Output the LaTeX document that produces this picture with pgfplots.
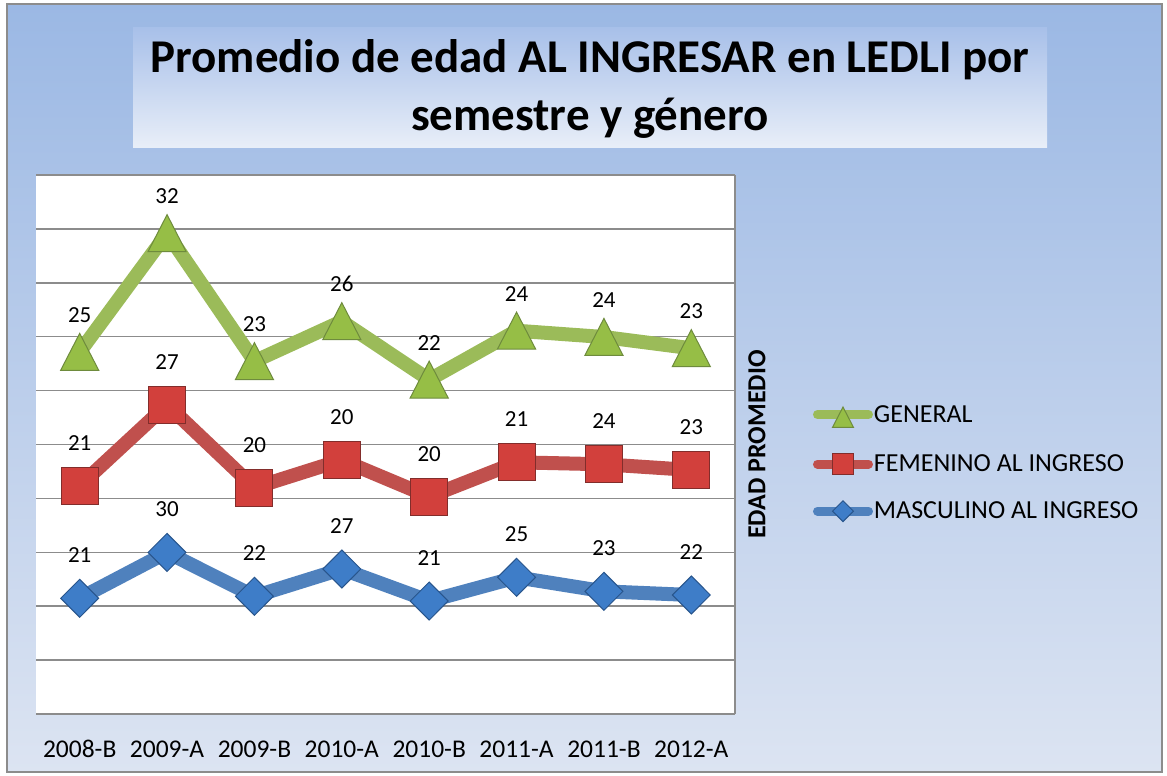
\documentclass[border=0pt]{standalone}
\usepackage{fontspec}
\setmainfont{Carlito}
\usepackage{pgfplots}
\pgfplotsset{compat=1.18}
\definecolor{bgtop}{RGB}{155,184,228}
\definecolor{bgbot}{RGB}{220,228,242}
\definecolor{ttop}{RGB}{168,192,233}
\definecolor{tbot}{RGB}{232,238,248}
\definecolor{gline}{RGB}{155,187,89}
\definecolor{gmark}{RGB}{150,190,70}
\definecolor{gedge}{RGB}{110,139,61}
\definecolor{rline}{RGB}{192,80,77}
\definecolor{rmark}{RGB}{210,64,60}
\definecolor{redge}{RGB}{130,45,43}
\definecolor{bline}{RGB}{79,129,189}
\definecolor{bmark}{RGB}{62,125,200}
\definecolor{bedge}{RGB}{40,85,140}
\definecolor{gridc}{RGB}{140,140,140}
\begin{document}
\begin{tikzpicture}[x=1pt,y=1pt]
\fill[white] (0pt,0pt) rectangle (1167pt,-776pt);
\shadedraw[top color=bgtop, bottom color=bgbot, draw=gridc, line width=1.5pt] (7pt,-4pt) rectangle (1162pt,-772pt);
\shade[top color=ttop, bottom color=tbot] (133pt,-28pt) rectangle (1047pt,-147pt);
\node[anchor=base, font=\fontsize{47}{57}\selectfont\bfseries, inner sep=0pt] at (590pt,-73pt) {Promedio de edad AL INGRESAR en LEDLI por};
\node[anchor=base, font=\fontsize{47}{57}\selectfont\bfseries, inner sep=0pt] at (590pt,-130pt) {semestre y género};
\begin{axis}[at={(36pt,-714pt)}, anchor=south west, scale only axis,
  width=699pt, height=539pt,
  xmin=-0.5, xmax=7.5, ymin=0, ymax=100,
  clip=false,
  stack plots=y,
  /pgf/number format/assume math mode=true,
  axis background/.style={fill=white},
  axis line style={draw=none},
  ytick={0,10,...,100}, yticklabels={},
  ymajorgrids, grid style={gridc, line width=1.5pt},
  major tick length=0pt,
  xtick={0,...,7},
  xticklabels={2008-B,2009-A,2009-B,2010-A,2010-B,2011-A,2011-B,2012-A},
  xticklabel style={font=\fontsize{25.5}{30}\selectfont, anchor=base, yshift=-43pt},
  ylabel={EDAD PROMEDIO},
  every axis y label/.style={at={(axis description cs:1.0315,0.5)}, rotate=90, anchor=center, font=\fontsize{26}{31}\selectfont\bfseries},
  point meta=explicit,
  nodes near coords,
  every node near coord/.append style={font=\fontsize{23}{27}\selectfont, black, anchor=center, yshift=43pt},
  legend style={at={(axis description cs:1.107,0.4657)}, anchor=west, draw=none, fill=none,
    font=\fontsize{26}{31}\selectfont, row sep=26.5pt, nodes={inner sep=1pt}},
  legend cell align=left,
  reverse legend,
  legend image code/.code={
    \draw[#1, line width=9pt, line cap=round, mark=none] (0pt,0pt) -- (51pt,0pt);
    \draw[#1, every mark/.append style={scale=0.55}] plot coordinates {(25.5pt,0pt)};
  },
]
\addplot[bline, line width=14pt, mark=diamond*, mark size=19pt,
  mark options={solid, fill=bmark, draw=bedge, line width=1pt, xscale=1.33}]
  coordinates {(0,21.47)[21] (1,29.98)[30] (2,21.84)[22] (3,26.90)[27] (4,20.96)[21] (5,25.36)[25] (6,22.76)[23] (7,22.08)[22]};
\addlegendentry{MASCULINO AL INGRESO}
\addplot[rline, line width=14pt, mark=square*, mark size=18.5pt,
  mark options={solid, fill=rmark, draw=redge, line width=1pt}]
  coordinates {(0,20.89)[21] (1,27.40)[27] (2,20.15)[20] (3,20.22)[20] (4,19.36)[20] (5,21.34)[21] (6,23.57)[24] (7,23.19)[23]};
\addlegendentry{FEMENINO AL INGRESO}
\addplot[gline, line width=14pt, mark=triangle*, mark size=22pt,
  mark options={solid, fill=gmark, draw=gedge, line width=1pt, yshift=-6pt, yscale=1.12}]
  coordinates {(0,24.80)[25] (1,31.80)[32] (2,23.45)[23] (3,25.74)[26] (4,21.70)[22] (5,24.41)[24] (6,23.61)[24] (7,22.58)[23]};
\addlegendentry{GENERAL}
\draw[gridc, line width=1.5pt] (rel axis cs:1,0) -- (rel axis cs:1,1);
\end{axis}
\end{tikzpicture}
\end{document}
